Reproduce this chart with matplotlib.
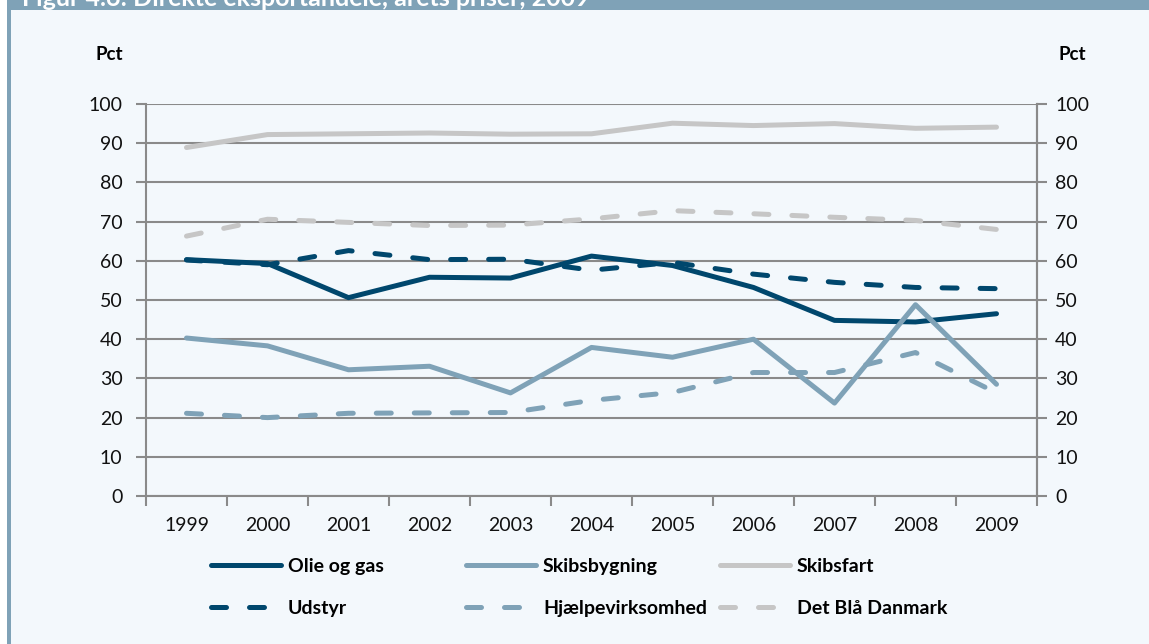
import matplotlib
matplotlib.use("Agg")
import matplotlib.pyplot as plt
from matplotlib.patches import Rectangle

plt.rcParams['font.family'] = ['Lato', 'DejaVu Sans']

years = ['1999', '2000', '2001', '2002', '2003', '2004', '2005', '2006', '2007', '2008', '2009']
olie_og_gas = [60.3, 59.3, 50.6, 55.8, 55.6, 61.2, 58.8, 53.2, 44.8, 44.4, 46.5]
skibsbygning = [40.3, 38.3, 32.2, 33.1, 26.3, 37.9, 35.4, 40.0, 23.7, 48.8, 28.5]
skibsfart = [88.9, 92.2, 92.4, 92.6, 92.3, 92.4, 95.1, 94.5, 95.0, 93.8, 94.1]
udstyr = [60.2, 59.0, 62.6, 60.3, 60.4, 57.6, 59.6, 56.6, 54.5, 53.2, 52.9]
hjaelpevirksomhed = [21.1, 20.0, 21.1, 21.2, 21.3, 24.4, 26.4, 31.5, 31.5, 36.6, 26.3]
det_blaa_danmark = [66.3, 70.6, 69.8, 69.0, 69.1, 70.7, 72.8, 72.0, 71.1, 70.3, 68.0]

title = "Figur 4.6: Direkte eksportandele, årets priser, 2009"
ylabel = "Pct"
yticks = [0, 10, 20, 30, 40, 50, 60, 70, 80, 90, 100]

NAVY = "#00476d"
BLUEGRAY = "#7fa2b7"
LIGHTGRAY = "#c6c6c6"
GRID = "#8a8a8a"
BG = "#f3f8fc"

W, H = 1149, 644
fig = plt.figure(figsize=(W / 100, H / 100), dpi=100, facecolor="white")

# background panel, header bar and left border
fig.patches.append(Rectangle((11 / W, 0), 1 - 11 / W, 1, transform=fig.transFigure,
                             facecolor=BG, edgecolor="none", zorder=-10))
fig.patches.append(Rectangle((7 / W, 0), 4 / W, 1, transform=fig.transFigure,
                             facecolor=BLUEGRAY, edgecolor="none", zorder=-9))
fig.patches.append(Rectangle((7 / W, 1 - 10 / H), 1 - 7 / W, 10 / H, transform=fig.transFigure,
                             facecolor=BLUEGRAY, edgecolor="none", zorder=-9))
fig.text(22 / W, 1 - 6 / H, title, color="white", fontsize=18, fontweight="bold",
         va="baseline", ha="left")

left, right, top, bottom = 146, 1037, 104, 496
ax = fig.add_axes([left / W, 1 - bottom / H, (right - left) / W, (bottom - top) / H])
ax.set_facecolor("none")

x = list(range(len(years)))
lw = 3.6
dash = (3.0, 4.6)
series = [
    (olie_og_gas, NAVY, "-", "Olie og gas"),
    (skibsbygning, BLUEGRAY, "-", "Skibsbygning"),
    (skibsfart, LIGHTGRAY, "-", "Skibsfart"),
    (udstyr, NAVY, "--", "Udstyr"),
    (hjaelpevirksomhed, BLUEGRAY, "--", "Hjælpevirksomhed"),
    (det_blaa_danmark, LIGHTGRAY, "--", "Det Blå Danmark"),
]
handles = []
for vals, col, ls, lab in series:
    if ls == "--":
        ln, = ax.plot(x, vals, color=col, lw=lw, dashes=dash, dash_capstyle="round",
                      solid_joinstyle="round", label=lab, zorder=3)
    else:
        ln, = ax.plot(x, vals, color=col, lw=lw, solid_capstyle="round",
                      solid_joinstyle="round", label=lab, zorder=3)
    handles.append(ln)

ax.set_xlim(-0.5, len(years) - 0.5)
ax.set_ylim(0, 100)
ax.set_yticks(yticks)
ax.set_yticklabels([str(v) for v in yticks])
ax.set_xticks(x)
ax.set_xticklabels(years)
ax.set_xticks([i - 0.5 for i in range(len(years) + 1)], minor=True)
ax.tick_params(axis="x", which="major", length=0, pad=15, labelsize=14, colors="#111111")
ax.tick_params(axis="x", which="minor", length=7, width=1.5, color=GRID)
ax.tick_params(axis="y", which="major", length=7, width=1.5, color=GRID, pad=10,
               labelsize=14, labelcolor="#111111")
ax.yaxis.grid(True, color=GRID, lw=1.5, zorder=1)
ax.set_axisbelow(True)
ax.spines["top"].set_visible(False)
for s in ["left", "bottom", "right"]:
    ax.spines[s].set_color(GRID)
    ax.spines[s].set_linewidth(1.5)

ax2 = ax.twinx()
ax2.set_ylim(0, 100)
ax2.set_yticks(yticks)
ax2.set_yticklabels([str(v) for v in yticks])
ax2.tick_params(axis="y", length=7, width=1.5, color=GRID, pad=6, labelsize=14,
                labelcolor="#111111")
for s in ["top", "left", "bottom"]:
    ax2.spines[s].set_visible(False)
ax2.spines["right"].set_color(GRID)
ax2.spines["right"].set_linewidth(1.5)

fig.text(109 / W, 1 - 55 / H, ylabel, fontsize=13.5, fontweight="bold", ha="center", va="center")
fig.text(1072 / W, 1 - 55 / H, ylabel, fontsize=13.5, fontweight="bold", ha="center", va="center")

# legend: three columns, each a two-row legend
col_x = [211, 466, 720]
for c in range(3):
    hs = [handles[c], handles[c + 3]]
    fig.legend(hs, [h.get_label() for h in hs], loc="upper left",
               bbox_to_anchor=(col_x[c] / W, 1 - 558 / H), frameon=False,
               borderpad=0, borderaxespad=0, handlelength=3.6, handletextpad=0.36,
               labelspacing=1.3, prop={"weight": "bold", "size": 14})

fig.savefig("out.png", dpi=100, facecolor=fig.get_facecolor())
